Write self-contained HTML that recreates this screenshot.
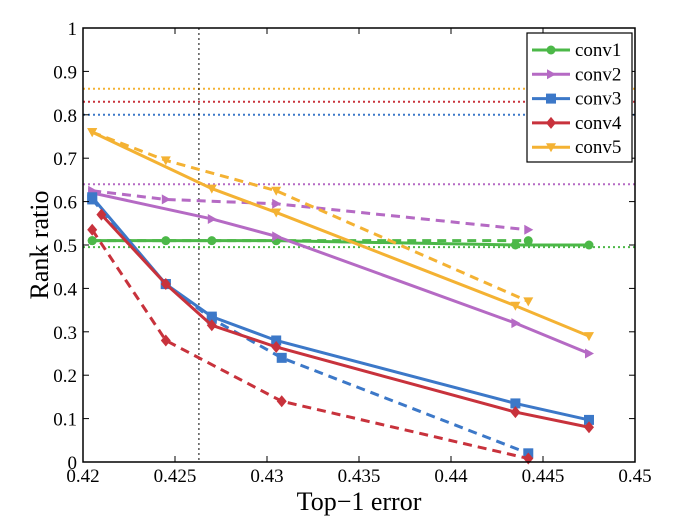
<!DOCTYPE html>
<html><head><meta charset="utf-8"><style>
body{margin:0;background:#fff}
svg{display:block;font-family:"Liberation Serif",serif}
</style></head><body>
<svg id="chart" width="698" height="526"></svg>
<script>
const xTicks=[0.42,0.425,0.43,0.435,0.44,0.445,0.45];
const yTicks=[0,0.1,0.2,0.3,0.4,0.5,0.6,0.7,0.8,0.9,1];
const names=["conv1","conv2","conv3","conv4","conv5"];
const colors=["#4cb848","#b56ac4","#3c78c8","#c8323c","#f4b233"];
const solidX=[[0.4205,0.4245,0.427,0.4305,0.4435,0.4475],[0.4205,0.427,0.4305,0.4435,0.4475],[0.4205,0.4245,0.427,0.4305,0.4435,0.4475],[0.421,0.4245,0.427,0.4305,0.4435,0.4475],[0.4205,0.427,0.4305,0.4435,0.4475]];
const solidY=[[0.51,0.51,0.51,0.51,0.50,0.50],[0.62,0.56,0.52,0.32,0.25],[0.61,0.41,0.335,0.28,0.135,0.097],[0.57,0.41,0.315,0.265,0.115,0.08],[0.76,0.63,0.575,0.36,0.29]];
const dashX=[[0.4205,0.4305,0.4442],[0.4205,0.4245,0.4305,0.4442],[0.4205,0.4245,0.427,0.4308,0.4442],[0.4205,0.4245,0.4308,0.4442],[0.4205,0.4245,0.4305,0.4442]];
const dashY=[[0.51,0.51,0.51],[0.625,0.605,0.595,0.535],[0.605,0.41,0.33,0.24,0.02],[0.535,0.28,0.14,0.008],[0.76,0.695,0.625,0.37]];
const baseline=[0.495,0.64,0.80,0.83,0.86];
const vLine=0.4263;
const L=83,R=635,T=28,B=462;
const sx=v=>L+(v-0.42)/0.03*(R-L), sy=v=>B-v*(B-T);
const svg=document.getElementById('chart');const NS="http://www.w3.org/2000/svg";
function mk(t,a,p){const e=document.createElementNS(NS,t);for(const k in a)e.setAttribute(k,a[k]);(p||svg).appendChild(e);return e;}
baseline.forEach((b,i)=>{const e=mk('line',{x1:L,x2:R,y1:sy(b),y2:sy(b),stroke:colors[i],'stroke-width':2,'stroke-dasharray':'2 3'});

});
const vl=mk('line',{x1:sx(vLine),x2:sx(vLine),y1:T,y2:B,stroke:'#000','stroke-width':1,'stroke-dasharray':'2 3'});


function marker(i,x,y,g){const c=colors[i];
 if(i==0)mk('circle',{cx:x,cy:y,r:4.5,fill:c},g);
 else if(i==1)mk('polygon',{points:`${x-4},${y-5} ${x+5},${y} ${x-4},${y+5}`,fill:c},g);
 else if(i==2)mk('rect',{x:x-5,y:y-5,width:10,height:10,fill:c},g);
 else if(i==3)mk('polygon',{points:`${x},${y-6} ${x+5},${y} ${x},${y+6} ${x-5},${y}`,fill:c},g);
 else mk('polygon',{points:`${x-5},${y-4} ${x+5},${y-4} ${x},${y+5}`,fill:c},g);}
function series(xs,ys,i,dash,nm){const g=mk('g',{});
 
 
 mk('polyline',{points:xs.map((x,k)=>sx(x)+','+sy(ys[k])).join(' '),fill:'none',stroke:colors[i],'stroke-width':3,'stroke-dasharray':dash?'9 6':'none'},g);
 xs.forEach((x,k)=>marker(i,sx(x),sy(ys[k]),g));}
for(let i=0;i<5;i++){series(dashX[i],dashY[i],i,true,names[i]+'-dashed-series');series(solidX[i],solidY[i],i,false,names[i]+'-solid-series');}
const ax=mk('rect',{x:L,y:T,width:R-L,height:B-T,fill:'none',stroke:'#000','stroke-width':1.5});


xTicks.forEach(v=>{const x=sx(v);mk('line',{x1:x,x2:x,y1:B,y2:B-6,stroke:'#000'});mk('line',{x1:x,x2:x,y1:T,y2:T+6,stroke:'#000'});
 const t=mk('text',{x:x,y:B+20,'text-anchor':'middle','font-size':19});t.textContent=v;
 
 });
yTicks.forEach(v=>{const y=sy(v);mk('line',{x1:L,x2:L+6,y1:y,y2:y,stroke:'#000'});mk('line',{x1:R,x2:R-6,y1:y,y2:y,stroke:'#000'});
 const t=mk('text',{x:L-6,y:y+7,'text-anchor':'end','font-size':19});t.textContent=v;
 
 });
const xt=mk('text',{x:359,y:510,'text-anchor':'middle','font-size':26});xt.textContent='Top\u22121 error';


const yt=mk('text',{x:48,y:245,'text-anchor':'middle','font-size':26,transform:'rotate(-90 48 245)'});yt.textContent='Rank ratio';


const lg=mk('g',{});


mk('rect',{x:527,y:33,width:105,height:129,fill:'#fff',stroke:'#000','stroke-width':1.2},lg);
names.forEach((n,i)=>{const y=50+i*24.3;const e=mk('g',{},lg);
 
 
 mk('line',{x1:532,x2:570,y1:y,y2:y,stroke:colors[i],'stroke-width':3},e);marker(i,551,y,e);
 const t=mk('text',{x:575,y:y+6,'font-size':19},e);t.textContent=n;});
</script>
</body></html>
